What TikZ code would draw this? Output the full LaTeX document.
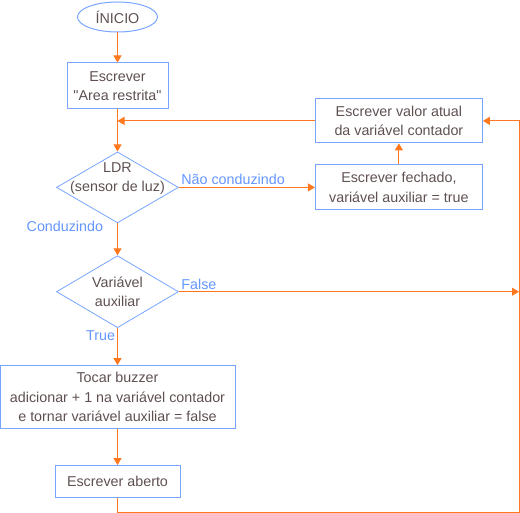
\documentclass[tikz,border=0pt]{standalone}
\usepackage{fontspec}
\setmainfont{Liberation Sans}
\usetikzlibrary{positioning,shapes.geometric,arrows.meta}
\definecolor{boxblue}{RGB}{120,165,255}
\definecolor{flowor}{RGB}{255,120,30}
\definecolor{txtgray}{RGB}{95,80,80}
\definecolor{lblblue}{RGB}{100,150,255}

\begin{document}
\begin{tikzpicture}[>={Triangle[length=7pt,width=8pt]},
            font=\fontsize{14.3}{19.5}\selectfont,
            every node/.style = {text=txtgray, align=center, inner sep=1pt},
            proc/.style = {draw=boxblue, line width=1pt, rectangle},
            startnode/.style = {draw=boxblue, line width=1pt, ellipse,
                    minimum width=80pt, minimum height=30pt},
            decision/.style = {draw=boxblue, line width=0.8pt, diamond, aspect=1.72,
                    inner sep=0pt, minimum width=122pt, minimum height=71pt},
            flow/.style = {draw=flowor, line width=1pt, ->},
            lbl/.style = {text=lblblue, inner sep=2pt},
        ]
        \useasboundingbox (0,0) rectangle (520pt,-513pt);

        \node[startnode] (inicio) at (117.5pt,-17pt) {ÍNICIO};
        \node[proc, minimum width=101pt, minimum height=46pt, below=30pt of inicio] (area)
            {Escrever\\\textquotedbl Area restrita\textquotedbl};
        \node[decision, below=42pt of area,
            label={[yshift=9pt]center:{LDR\\(sensor de luz)}}] (ldr) {};
        \node[decision, minimum height=72pt, below=32pt of ldr,
            label={center:{Variável\\auxiliar}}] (var) {};
        \node[proc, minimum width=235pt, minimum height=63pt, below=37pt of var] (buzz)
            {Tocar buzzer\\adicionar + 1 na variável contador\\e tornar variável auxiliar = false};
        \node[proc, minimum width=125pt, minimum height=32pt, below=36pt of buzz] (aberto)
            {Escrever aberto};
        \node[proc, minimum width=167pt, minimum height=45pt, right=136pt of ldr] (fechado)
            {Escrever fechado,\\variável auxiliar = true};
        \node[proc, minimum width=167pt, minimum height=44pt, above=21pt of fechado] (valor)
            {Escrever valor atual\\da variável contador};
        \coordinate (canto) at (519pt,-512pt);

        \draw[flow] (inicio) -- (area);
        \draw[flow] (area) -- (ldr);
        \draw[flow] (ldr.east) -- node[lbl, pos=0, above right] {Não conduzindo} (ldr.east -| fechado.west);
        \draw[flow] (fechado) -- (valor);
        \draw[flow] (valor.west) -- (valor.west -| area.south);
        \draw[flow] (ldr) -- node[lbl, pos=0, anchor=north east, xshift=-12pt, yshift=5pt] {Conduzindo} (var);
        \draw[flow] (var.east) -- node[lbl, pos=0, above right] {False} (var.east -| canto);
        \draw[flow] (var) -- node[lbl, pos=0, anchor=north east] {True} (buzz);
        \draw[flow] (buzz) -- (aberto);
        \draw[flow] (aberto.south) |- (canto) |- (valor.east);
    \end{tikzpicture}
\end{document}
